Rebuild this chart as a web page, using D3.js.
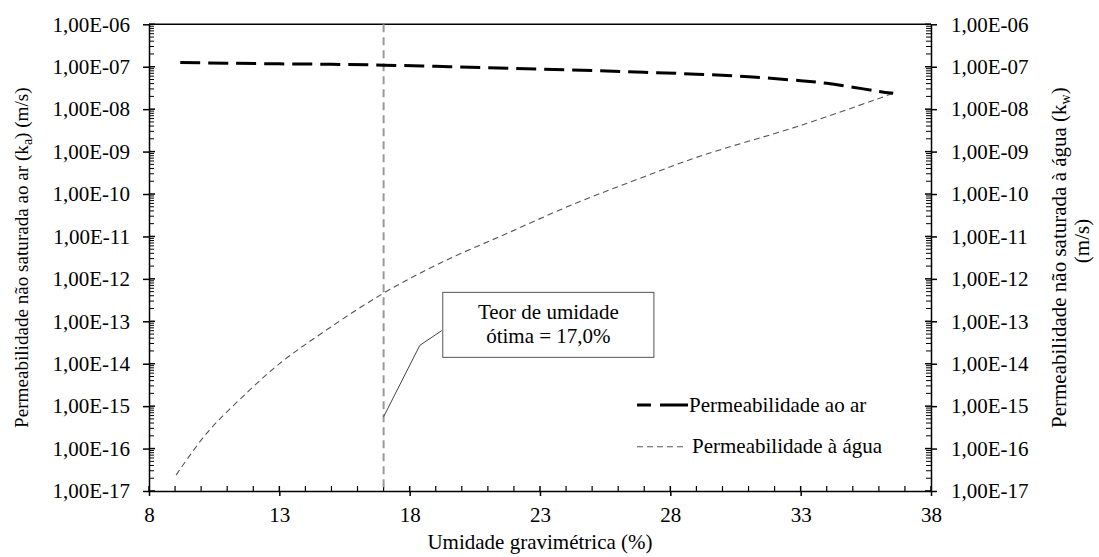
<!DOCTYPE html>
<html>
<head>
<meta charset="utf-8">
<script src="https://cdn.jsdelivr.net/npm/d3@7"></script>
<style>
  html, body { margin: 0; padding: 0; background: #fff; }
  svg { display: block; }
</style>
</head>
<body>
<svg id="chart" width="1099" height="557"></svg>
<script>
// ---------- data ----------
const moistureAir = [9.2, 11, 13, 15, 17, 19, 21, 23, 25, 27, 29, 31, 33, 34, 35, 36, 36.55];
const kAir = [1.26e-7, 1.21e-7, 1.17e-7, 1.14e-7, 1.09e-7, 1.02e-7, 9.44e-8, 8.75e-8, 8.1e-8, 7.41e-8, 6.68e-8, 5.82e-8, 4.67e-8, 4.07e-8, 3.3e-8, 2.62e-8, 2.36e-8];

const moistureWater = [9.04, 10.21, 11.49, 13.02, 14.82, 16.99, 19.16, 21.72, 24.28, 26.71, 29.13, 32.97, 36.55];
const kWater = [2.37e-17, 2.29e-16, 1.45e-15, 1.02e-14, 6.31e-14, 4.57e-13, 2.34e-12, 1.17e-11, 5.75e-11, 2.19e-10, 7.76e-10, 4.07e-9, 2.36e-8];

const xTicks = [8, 13, 18, 23, 28, 33, 38];
const yDecades = [1e-17, 1e-16, 1e-15, 1e-14, 1e-13, 1e-12, 1e-11, 1e-10, 1e-9, 1e-8, 1e-7, 1e-6];
const optimumMoisture = 17.0;

const seriesNames = ["Permeabilidade ao ar", "Permeabilidade à água"];
const xTitle = "Umidade gravimétrica (%)";
const calloutLines = ["Teor de umidade", "ótima = 17,0%"];
const calloutBox = { x0: 19.27, x1: 27.37, y0: 10 ** -12.318, y1: 10 ** -13.85 };
const calloutLeader = [[17.0, 10 ** -15.25], [18.39, 10 ** -13.567], [19.23, 10 ** -13.22]];

// ---------- layout ----------
const L = 149, R = 931, T = 24.3, B = 491;
const FS = 21;
const FONT = "'Liberation Serif', Tinos, 'Times New Roman', Times, 'Noto Serif', 'DejaVu Serif', FreeSerif, 'Nimbus Roman', serif";

const svg = d3.select("#chart").attr("font-family", FONT);
const x = d3.scaleLinear().domain([8, 38]).range([L, R]);
const y = d3.scaleLog().domain([1e-17, 1e-6]).range([B, T]);

const fmt = d => {
  const e = Math.round(Math.log10(d));
  const a = Math.abs(e);
  return "1,00E" + (e < 0 ? "-" : "+") + (a < 10 ? "0" + a : a);
};

// fit a text element's font size to the reference extent
function fit(sel, target, base) {
  const len = sel.node().getComputedTextLength();
  if (len > 0) sel.attr("font-size", Math.min(base, base * target / len));
}

const minor = [];
yDecades.slice(0, -1).forEach(d => { for (let k = 2; k <= 9; k++) minor.push(d * k); });
const xMinor = d3.range(8, 39, 1).filter(v => !xTicks.includes(v));

svg.append("line").attr("x1", L).attr("x2", R).attr("y1", T).attr("y2", T)
  .attr("stroke", "#000").attr("stroke-width", 1.5);

const gl = svg.append("g").attr("transform", `translate(${L},0)`)
  .call(d3.axisLeft(y).tickValues(yDecades).tickFormat(fmt).tickSize(6).tickSizeOuter(0).tickPadding(13));
const gr = svg.append("g").attr("transform", `translate(${R},0)`)
  .call(d3.axisRight(y).tickValues(yDecades).tickFormat(fmt).tickSize(6).tickSizeOuter(0).tickPadding(14));
const gb = svg.append("g").attr("transform", `translate(0,${B})`)
  .call(d3.axisBottom(x).tickValues(xTicks).tickFormat(d3.format("d")).tickSize(5).tickSizeOuter(0).tickPadding(11));

[gl, gr, gb].forEach(g => {
  g.attr("font-family", FONT).attr("font-size", FS);
  g.select(".domain").attr("stroke", "#000").attr("stroke-width", 1.5);
  g.selectAll(".tick line").attr("stroke", "#000").attr("stroke-width", 1.5);
  g.selectAll(".tick text").attr("fill", "#000");
});

svg.append("g").selectAll("line").data(yDecades).join("line")
  .attr("x1", L).attr("x2", L + 6).attr("y1", d => y(d)).attr("y2", d => y(d))
  .attr("stroke", "#000").attr("stroke-width", 1.5);
svg.append("g").selectAll("line").data(yDecades).join("line")
  .attr("x1", R).attr("x2", R - 6).attr("y1", d => y(d)).attr("y2", d => y(d))
  .attr("stroke", "#000").attr("stroke-width", 1.5);
svg.append("g").selectAll("line").data(xTicks).join("line")
  .attr("x1", d => x(d)).attr("x2", d => x(d)).attr("y1", B).attr("y2", B - 5)
  .attr("stroke", "#000").attr("stroke-width", 1.5);
svg.append("g").selectAll("line").data(minor).join("line")
  .attr("x1", L).attr("x2", L + 5).attr("y1", d => y(d)).attr("y2", d => y(d))
  .attr("stroke", "#000").attr("stroke-width", 1);
svg.append("g").selectAll("line").data(minor).join("line")
  .attr("x1", R).attr("x2", R - 5).attr("y1", d => y(d)).attr("y2", d => y(d))
  .attr("stroke", "#000").attr("stroke-width", 1);
svg.append("g").selectAll("line").data(xMinor).join("line")
  .attr("x1", d => x(d)).attr("x2", d => x(d)).attr("y1", B).attr("y2", B - 5)
  .attr("stroke", "#000").attr("stroke-width", 1.2);

svg.append("line")
  .attr("x1", x(optimumMoisture)).attr("x2", x(optimumMoisture))
  .attr("y1", y(1e-6)).attr("y2", y(1e-17))
  .attr("stroke", "#999").attr("stroke-width", 2).attr("stroke-dasharray", "8,5");

const line = d3.line().x(d => x(d[0])).y(d => y(d[1])).curve(d3.curveCatmullRom.alpha(0.5));
const airData = moistureAir.map((m, i) => [m, kAir[i]]);
const waterData = moistureWater.map((m, i) => [m, kWater[i]]);

svg.append("path").datum(waterData).attr("d", line)
  .attr("fill", "none").attr("stroke", "#555").attr("stroke-width", 1.1)
  .attr("stroke-dasharray", "6,4");
svg.append("path").datum(airData).attr("d", line)
  .attr("fill", "none").attr("stroke", "#000").attr("stroke-width", 3)
  .attr("stroke-dasharray", "20,8");

// callout
svg.append("path").datum(calloutLeader)
  .attr("d", d3.line().x(d => x(d[0])).y(d => y(d[1])))
  .attr("fill", "none").attr("stroke", "#444").attr("stroke-width", 1);
svg.append("rect")
  .attr("x", x(calloutBox.x0)).attr("y", y(calloutBox.y0))
  .attr("width", x(calloutBox.x1) - x(calloutBox.x0))
  .attr("height", y(calloutBox.y1) - y(calloutBox.y0))
  .attr("fill", "#fff").attr("stroke", "#555").attr("stroke-width", 1);
const cx = (x(calloutBox.x0) + x(calloutBox.x1)) / 2;
const cyTop = y(calloutBox.y0);
svg.append("g").selectAll("text").data(calloutLines).join("text")
  .attr("x", cx).attr("y", (d, i) => cyTop + 27 + i * 24)
  .attr("text-anchor", "middle").attr("font-size", FS).text(d => d);

// legend
const lg = svg.append("g").attr("transform", `translate(${R - 294},0)`);
lg.append("line").attr("x1", 0).attr("x2", 51).attr("y1", 405).attr("y2", 405)
  .attr("stroke", "#000").attr("stroke-width", 3).attr("stroke-dasharray", "14,9,28");
lg.append("text").attr("x", 52).attr("y", 411.7).attr("font-size", FS).text(seriesNames[0]);
lg.append("line").attr("x1", 0).attr("x2", 48).attr("y1", 446.7).attr("y2", 446.7)
  .attr("stroke", "#555").attr("stroke-width", 1.1).attr("stroke-dasharray", "6,4");
lg.append("text").attr("x", 55).attr("y", 453.3).attr("font-size", FS).text(seriesNames[1]);

// axis titles
const xt = svg.append("text").attr("x", (L + R) / 2).attr("y", 548.5).attr("text-anchor", "middle")
  .attr("font-size", FS).text(xTitle);
fit(xt, 232, FS);

const lt = svg.append("text").attr("transform", `translate(28,${(T + B) / 2}) rotate(-90)`)
  .attr("text-anchor", "middle").attr("font-size", FS);
lt.append("tspan").text("Permeabilidade não saturada ao ar (k");
lt.append("tspan").attr("dy", 4).attr("font-size", 14).text("a");
lt.append("tspan").attr("dy", -4).text(") (m/s)");
fit(lt, 340, FS);

const rt1 = svg.append("text").attr("transform", `translate(1066,${(T + B) / 2}) rotate(-90)`)
  .attr("text-anchor", "middle").attr("font-size", FS);
rt1.append("tspan").text("Permeabilidade não saturada à água (k");
rt1.append("tspan").attr("dy", 4).attr("font-size", 14).text("w");
rt1.append("tspan").attr("dy", -4).text(")");
fit(rt1, 353, FS);
svg.append("text").attr("transform", `translate(1089,241) rotate(-90)`)
  .attr("text-anchor", "middle").attr("font-size", rt1.attr("font-size")).text("(m/s)");
</script>
</body>
</html>
